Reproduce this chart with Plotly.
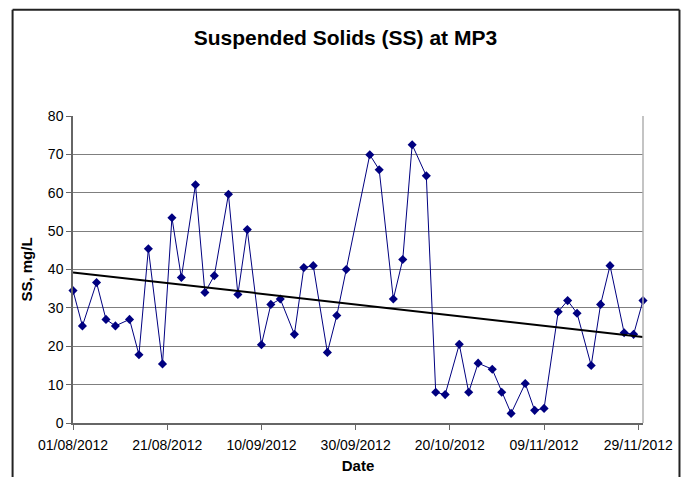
import numpy as np
import pandas as pd
import plotly.graph_objects as go

sample_dates = [
    "2012-08-01", "2012-08-03", "2012-08-06", "2012-08-08", "2012-08-10", "2012-08-13",
    "2012-08-15", "2012-08-17", "2012-08-20", "2012-08-22", "2012-08-24", "2012-08-27",
    "2012-08-29", "2012-08-31",
    "2012-09-03", "2012-09-05", "2012-09-07", "2012-09-10", "2012-09-12", "2012-09-14",
    "2012-09-17", "2012-09-19", "2012-09-21", "2012-09-24", "2012-09-26", "2012-09-28",
    "2012-10-03", "2012-10-05", "2012-10-08", "2012-10-10", "2012-10-12", "2012-10-15",
    "2012-10-17", "2012-10-19", "2012-10-22", "2012-10-24", "2012-10-26", "2012-10-29",
    "2012-10-31",
    "2012-11-02", "2012-11-05", "2012-11-07", "2012-11-09", "2012-11-12", "2012-11-14",
    "2012-11-16", "2012-11-19", "2012-11-21", "2012-11-23", "2012-11-26", "2012-11-28",
    "2012-11-30",
]
ss_values = [
    34.5, 25.3, 36.6, 27.0, 25.3, 27.0, 17.8, 45.4, 15.4, 53.5, 37.9, 62.1, 34.0, 38.4,
    59.6, 33.5, 50.4, 20.4, 30.9, 32.3, 23.1, 40.5, 41.0, 18.4, 28.0, 40.0,
    69.9, 66.0, 32.3, 42.6, 72.5, 64.4, 8.0, 7.4, 20.5, 8.0, 15.6, 14.0, 8.0,
    2.5, 10.3, 3.3, 3.8, 29.0, 31.9, 28.6, 15.0, 30.9, 41.0, 23.5, 23.1, 31.9,
]
y_ticks = [0, 10, 20, 30, 40, 50, 60, 70, 80]

dates = pd.to_datetime(sample_dates)

# linear trendline (like Excel's)
days = (dates - dates[0]).days.to_numpy()
slope, intercept = np.polyfit(days, ss_values, 1)
trend_x = [dates[0], dates[-1]]
trend_y = [intercept, intercept + slope * days[-1]]

fig = go.Figure()
fig.add_trace(go.Scatter(x=dates, y=ss_values, mode="lines+markers",
                         line=dict(color="#000080", width=1),
                         marker=dict(symbol="diamond", size=7, color="#000080"),
                         cliponaxis=False, showlegend=False))
fig.add_trace(go.Scatter(x=trend_x, y=trend_y, mode="lines",
                         line=dict(color="black", width=2),
                         showlegend=False))

font = "Liberation Sans, Arial, sans-serif"
fig.update_layout(
    width=695, height=477,
    margin=dict(l=73, r=52, t=116, b=54),
    paper_bgcolor="white", plot_bgcolor="white",
    font=dict(family=font, size=14, color="black"),
    title=dict(text="<b>Suspended Solids (SS) at MP3</b>", font=dict(size=21),
               x=0.497, xanchor="center", xref="container",
               y=0.922, yanchor="middle", yref="container"),
)
fig.update_xaxes(
    range=[dates[0], dates[-1]], automargin=False,
    tick0="2012-08-01", dtick=20 * 86400000, tickformat="%d/%m/%Y",
    ticks="outside", ticklen=5, tickcolor="#666666", ticklabelstandoff=3,
    showline=True, linecolor="#666666", linewidth=1.5,
    showgrid=False, zeroline=False,
    title=dict(text="<b>Date</b>", font=dict(size=15), standoff=9),
)
fig.update_yaxes(
    range=[0, 80], tickvals=y_ticks, automargin=False,
    ticks="outside", ticklen=5, tickcolor="#666666",
    showline=True, linecolor="#666666", linewidth=1.5,
    showgrid=True, gridcolor="#7f7f7f", gridwidth=1, zeroline=False,
    title=dict(text="<b>SS, mg/L</b>", font=dict(size=15), standoff=12),
)

# light plot area edge on the right
fig.add_shape(type="line", xref="paper", yref="paper", x0=1, x1=1, y0=0, y1=1,
              line=dict(color="#b0b0b0", width=1.5))
# outer chart border, as lines
bx0, bx1, by0, by1 = -0.106, 1.064, -0.3, 1.346
for x0, x1, y0, y1 in [(bx0, bx0, by0, by1), (bx1, bx1, by0, by1), (bx0, bx1, by1, by1)]:
    fig.add_shape(type="line", xref="paper", yref="paper", layer="above",
                  x0=x0, x1=x1, y0=y0, y1=y1,
                  line=dict(color="#222222", width=2))

fig.write_html("out.html", config={"displayModeBar": False},
               post_script="document.body.style.margin='0';")
